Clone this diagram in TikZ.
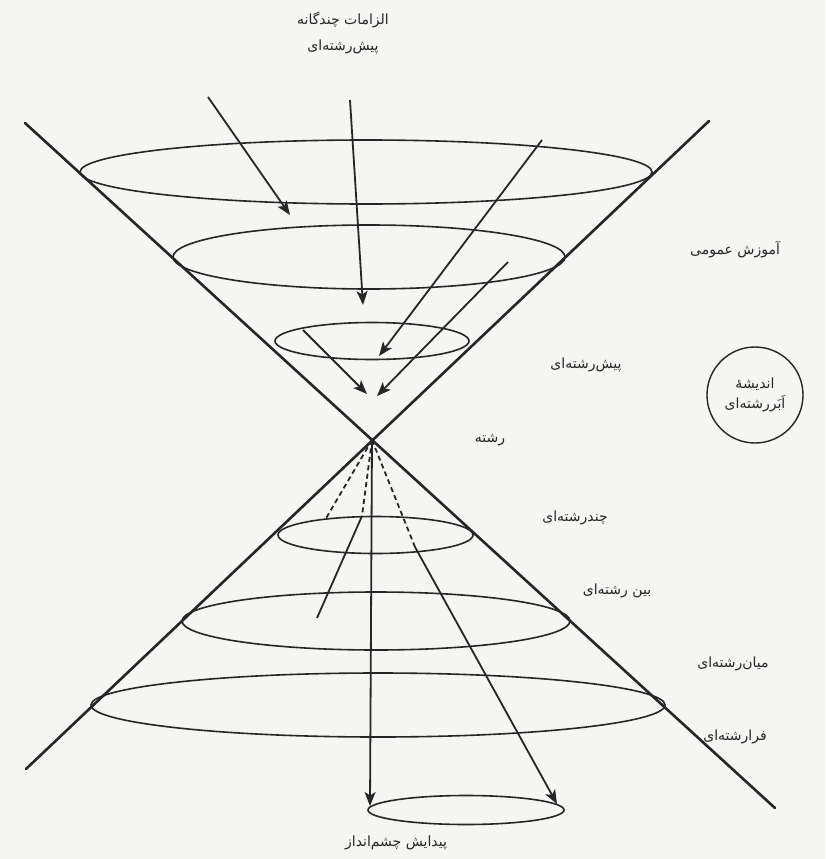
\documentclass[tikz,border=0pt]{standalone}
\usepackage{fontspec}
\newfontfamily\fafont[Script=Arabic]{DejaVu Sans}
\TeXXeTstate=1
\usetikzlibrary{arrows.meta,shapes.geometric}
\definecolor{ink}{HTML}{262626}
\definecolor{paper}{HTML}{F5F5F3}
\begin{document}
\begin{tikzpicture}[x=1pt,y=-1pt,
  cone/.style={line width=2.6pt, draw=ink, line cap=round},
  ring/.style={ellipse, draw=ink, line width=1.6pt, inner sep=0pt, outer sep=0pt},
  ray/.style={line width=1.8pt, draw=ink},
  arr/.style={ray, -{Stealth[length=14pt,width=11pt,inset=3.5pt]}},
  dray/.style={ray, dash pattern=on 5pt off 3.5pt},
  lbl/.style={font=\fafont\fontsize{14}{17}\selectfont, text=ink, inner sep=1pt}]
\fill[paper] (0,0) rectangle (825,859);
\useasboundingbox (0,0) rectangle (825,859);
% cone
\coordinate (apex) at (372,440);
\coordinate (aTL) at (25,123);
\coordinate (aBR) at (775,808);
\coordinate (aTR) at (709,121);
\coordinate (aBL) at (26,769);
\draw[cone] (aTL) -- (aBR);
\draw[cone] (aTR) -- (aBL);
% ellipses
\node[ring, minimum width=572pt, minimum height=64pt] (e1) at (366,172) {};
\node[ring, minimum width=392pt, minimum height=64pt] (e2) at (369,257) {};
\node[ring, minimum width=194pt, minimum height=37pt] (e3) at (372,341) {};
\node[ring, minimum width=195pt, minimum height=37pt] (e4) at (375.5,535) {};
\node[ring, minimum width=388pt, minimum height=58pt] (e5) at (376,621) {};
\node[ring, minimum width=574pt, minimum height=64pt] (e6) at (378,705) {};
\node[ring, minimum width=196pt, minimum height=29pt] (e7) at (466,810) {};
% top arrows
\coordinate (s1) at (208,97);  \coordinate (t1) at (290,215);
\coordinate (s2) at (350,100); \coordinate (t2) at (363,305);
\coordinate (s3) at (542,140); \coordinate (t3) at (379,356);
\coordinate (s4) at (508,262); \coordinate (t4) at (377,396);
\coordinate (s5) at (303,330); \coordinate (t5) at (367,394);
\draw[arr] (s1) -- (t1);
\draw[arr] (s2) -- (t2);
\draw[arr] (s3) -- (t3);
\draw[arr] (s4) -- (t4);
\draw[arr] (s5) -- (t5);
% bottom rays
\coordinate (b1) at (325,520);
\coordinate (b2) at (362,516); \coordinate (b2e) at (317,618);
\coordinate (b3) at (370,806);
\coordinate (b4) at (415,547); \coordinate (b4e) at (557,804);
\draw[dray] (apex) -- (b1);
\draw[dray] (apex) -- (b2);
\draw[ray] (b2) -- (b2e);
\draw[arr] (apex) -- (b3);
\draw[dray] (apex) -- (b4);
\draw[arr] (b4) -- (b4e);
% labels
\node[lbl] (l1) at (343,20) {\beginR الزامات چندگانه\endR};
\node[lbl] (l2) at (343,47) {\beginR پیش‌رشته‌ای\endR};
\node[lbl] (l3) at (735,250) {\beginR آموزش عمومی\endR};
\node[lbl] (l4) at (586,365) {\beginR پیش‌رشته‌ای\endR};
\node[lbl] (l5) at (490,440) {\beginR رشته\endR};
\node[lbl] (l6) at (575,518) {\beginR چندرشته‌ای\endR};
\node[lbl] (l7) at (617,591) {\beginR بین رشته‌ای\endR};
\node[lbl] (l8) at (733,664) {\beginR میان‌رشته‌ای\endR};
\node[lbl] (l9) at (735,737) {\beginR فرارشته‌ای\endR};
\node[lbl] (l10) at (396,843) {\beginR پیدایش چشم‌انداز\endR};
\node[circle, draw=ink, line width=1.4pt, minimum size=96pt, lbl, inner sep=0pt, align=center] (cir) at (755,395)
  {\beginR اندیشهٔ\endR\\[3pt]\beginR اَبَررشته‌ای\endR};
\end{tikzpicture}
\end{document}
